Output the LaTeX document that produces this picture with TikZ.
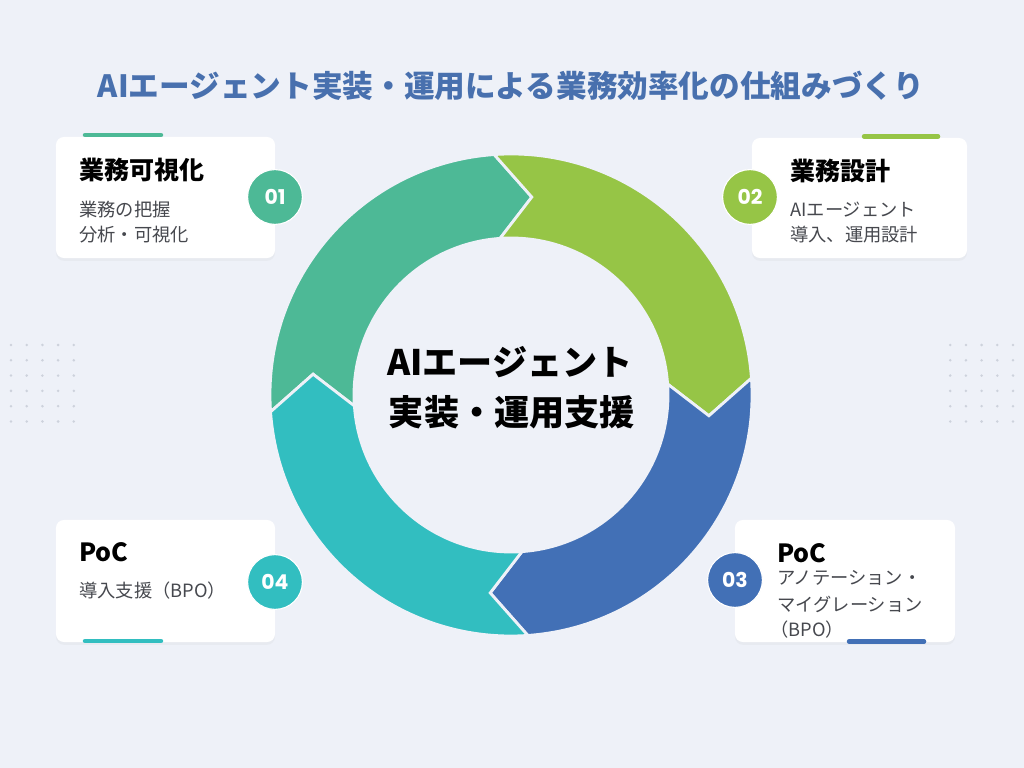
\documentclass[tikz,border=0pt]{standalone}
\usepackage{fontspec}
\setmainfont{Noto Sans CJK JP}
\newfontfamily\numfont{Poppins}
\usetikzlibrary{shadows}
\definecolor{bgcol}{HTML}{EEF1F8}
\definecolor{dotcol}{HTML}{CDD2DC}
\definecolor{titlecol}{HTML}{4870AE}
\definecolor{textgray}{HTML}{46484E}
\definecolor{stepA}{HTML}{4DB996}
\definecolor{stepB}{HTML}{96C546}
\definecolor{stepC}{HTML}{4270B6}
\definecolor{stepD}{HTML}{32BEC0}
\tikzset{
  card/.style={fill=white, rounded corners=0.2cm, drop shadow={opacity=0.06, shadow xshift=0pt, shadow yshift=-2pt}},
  numdot/.style={circle, minimum size=1.37cm, inner sep=0pt, draw=white, line width=0.8pt, text=white, font=\numfont\bfseries\fontsize{14.5}{15}\selectfont},
  cardhead/.style={anchor=west, inner sep=0pt, font=\bfseries\fontsize{17.8}{20}\selectfont},
  cardtext/.style={anchor=west, inner sep=0pt, text=textgray, font=\fontsize{13}{15}\selectfont},
  bar/.style={line width=0.112cm, line cap=round},
  ringpart/.style={draw=bgcol, line width=2pt, line join=miter}
}
\newcommand\ringpart[2]{%
  \fill[ringpart, fill=#2] ({#1}:241) arc[start angle={#1}, end angle={#1-90}, radius=241]
    -- ({#1-100}:199) -- ({#1-90}:157) arc[start angle={#1-90}, end angle={#1}, radius=157]
    -- ({#1-10}:199) -- cycle;}
\begin{document}
\begin{tikzpicture}[x=0.025cm, y=0.025cm]
\useasboundingbox (0,0) rectangle (1024,768);
\fill[bgcol] (0,0) rectangle (1024,768);

\node[font=\bfseries\fontsize{21.8}{24}\selectfont, text=titlecol] (title) at (511,682) {AIエージェント実装・運用による業務効率化の仕組みづくり};

\foreach \i in {0,...,4}
  \foreach \j in {0,...,5} {
    \fill[dotcol] (11+15.7*\i, 423-15.3*\j) circle (1pt);
    \fill[dotcol] (1013-15.7*\i, 423-15.3*\j) circle (1pt);
  }

\begin{scope}[shift={(511,373)}]
\ringpart{184}{stepA}
\ringpart{94}{stepB}
\ringpart{4}{stepC}
\ringpart{-86}{stepD}
\end{scope}
\node[font=\bfseries\fontsize{25}{28}\selectfont] (hub1) at (510,406) {AIエージェント};
\node[font=\bfseries\fontsize{25}{28}\selectfont] (hub2) at (512,356) {実装・運用支援};

\node[card, minimum width=5.475cm, minimum height=3.025cm] (card1) at (165.5,570.5) {};
\node[card, minimum width=5.375cm, minimum height=3cm] (card2) at (859.5,570) {};
\node[card, minimum width=5.5cm, minimum height=3.05cm] (card3) at (845,187) {};
\node[card, minimum width=5.475cm, minimum height=3.05cm] (card4) at (165.5,187) {};

\draw[bar, stepA] (85,633) -- (161,633);
\draw[bar, stepB] (864,631.5) -- (938,631.5);
\draw[bar, stepC] (849,126.5) -- (924,126.5);
\draw[bar, stepD] (85,127) -- (161,127);

\node[numdot, fill=stepA] (n1) at (275,571) {01};
\node[numdot, fill=stepB] (n2) at (750,571) {02};
\node[numdot, fill=stepC] (n3) at (735,188) {03};
\node[numdot, fill=stepD] (n4) at (275,186) {04};

\node[cardhead] (h1) at (79,598) {業務可視化};
\node[cardtext] (t1a) at (79,558) {業務の把握};
\node[cardtext] (t1b) at (79,533) {分析・可視化};

\node[cardhead] (h2) at (790,597) {業務設計};
\node[cardtext] (t2a) at (790,558) {AIエージェント};
\node[cardtext] (t2b) at (790,533) {導入、運用設計};

\node[cardhead] (h3) at (777,215) {PoC};
\node[cardtext] (t3a) at (777,190) {アノテーション・};
\node[cardtext] (t3b) at (777,164) {マイグレーション};
\node[cardtext] (t3c) at (770,138) {（BPO）};

\node[cardhead] (h4) at (79,216) {PoC};
\node[cardtext] (t4a) at (79,177) {導入支援（BPO）};
\end{tikzpicture}
\end{document}
